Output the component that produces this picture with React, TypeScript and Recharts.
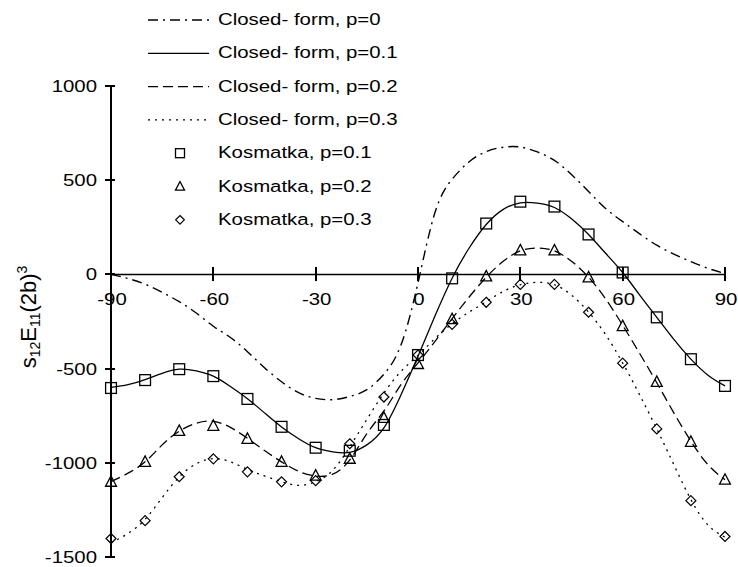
import React from 'react';
import { ComposedChart, Line, Scatter, XAxis, YAxis, ReferenceLine } from 'recharts';

// angles for the closed-form curves (every 5 degrees)
const angles = [
  -90, -85, -80, -75, -70, -65, -60, -55, -50, -45, -40, -35, -30, -25, -20, -15, -10, -5, 0,
  5, 10, 15, 20, 25, 30, 35, 40, 45, 50, 55, 60, 65, 70, 75, 80, 85, 90,
];
const closedP0 = [
  0, -22, -52, -95, -145, -205, -275, -335, -410, -495, -570, -628, -658, -665, -648, -612, -530, -375, -45,
  330, 505, 598, 652, 675, 676, 650, 605, 530, 440, 350, 280, 215, 155, 108, 68, 32, 5,
];
const closedP1 = [
  -600, -585, -558, -525, -503, -512, -540, -595, -660, -735, -810, -872, -920, -942, -945, -905, -815, -640, -435,
  -220, -20, 140, 265, 345, 380, 378, 355, 295, 212, 112, 10, -110, -228, -345, -450, -535, -592,
];
const closedP2 = [
  -1100, -1055, -995, -905, -832, -790, -780, -812, -870, -935, -995, -1045, -1070, -1060, -985, -845, -725, -585, -470,
  -355, -235, -120, -15, 70, 125, 140, 125, 70, -15, -130, -270, -420, -575, -735, -885, -1010, -1090,
];
const closedP3 = [
  -1425, -1375, -1300, -1185, -1075, -1005, -978, -995, -1035, -1070, -1100, -1120, -1100, -1040, -915, -770, -630, -515, -430,
  -340, -262, -200, -145, -90, -55, -42, -55, -110, -200, -320, -470, -640, -820, -1010, -1195, -1330, -1395,
];

// Kosmatka points (every 10 degrees)
const kosAngles = [-90, -80, -70, -60, -50, -40, -30, -20, -10, 0, 10, 20, 30, 40, 50, 60, 70, 80, 90];
const kosP1 = [-603, -561, -503, -540, -661, -809, -920, -936, -799, -428, -21, 270, 386, 360, 212, 10, -228, -450, -592];
const kosP2 = [-1101, -995, -831, -804, -873, -995, -1068, -979, -762, -476, -238, -11, 127, 127, -16, -275, -571, -889, -1090];
const kosP3 = [-1402, -1307, -1074, -979, -1048, -1101, -1095, -899, -651, -428, -265, -148, -53, -53, -201, -471, -820, -1201, -1391];

const xTicks = [-90, -60, -30, 0, 30, 60, 90];
const yTicks = [-1500, -1000, -500, 0, 500, 1000];

const legendRows = [
  { label: 'Closed- form, p=0', kind: 'p0' },
  { label: 'Closed- form, p=0.1', kind: 'p1' },
  { label: 'Closed- form, p=0.2', kind: 'p2' },
  { label: 'Closed- form, p=0.3', kind: 'p3' },
  { label: 'Kosmatka, p=0.1', kind: 'square' },
  { label: 'Kosmatka, p=0.2', kind: 'triangle' },
  { label: 'Kosmatka, p=0.3', kind: 'diamond' },
];

const W = 738;
const H = 567;
const margin = { top: 86, right: 13, bottom: 0, left: 51 };
const Y_AXIS_W = 60;
const X_AXIS_H = 10;
const X_MIN = -90;
const X_MAX = 90;
const Y_MIN = -1500;
const Y_MAX = 1000;
const PLOT_L = margin.left + Y_AXIS_W;
const PLOT_W = W - PLOT_L - margin.right;
const PLOT_H = H - margin.top - margin.bottom - X_AXIS_H;
const FONT = 'Liberation Sans, Arial, Helvetica, sans-serif';
const STRETCH = 1.2;
const AXIS_W = 2;

const dashes: Record<string, string | undefined> = {
  p0: '10 5 2 5',
  p1: undefined,
  p2: '10 5',
  p3: '2 5',
};

const curveData = angles.map((x, i) => ({
  x,
  p0: closedP0[i],
  p1: closedP1[i],
  p2: closedP2[i],
  p3: closedP3[i],
}));
const kos1 = kosAngles.map((x, i) => ({ x, y: kosP1[i] }));
const kos2 = kosAngles.map((x, i) => ({ x, y: kosP2[i] }));
const kos3 = kosAngles.map((x, i) => ({ x, y: kosP3[i] }));

// same linear mapping the chart uses for its plot area (axis decorations only)
const px = (v: number) => Math.round(PLOT_L + ((v - X_MIN) / (X_MAX - X_MIN)) * PLOT_W);
const py = (v: number) => Math.round(margin.top + ((Y_MAX - v) / (Y_MAX - Y_MIN)) * PLOT_H);

const SText = ({ x, y, anchor = 'start', size = 17, children }: any) => (
  <text
    transform={`translate(${x},${y}) scale(${STRETCH},1)`}
    textAnchor={anchor}
    fontSize={size}
    fontFamily={FONT}
    fill="#000"
  >
    {children}
  </text>
);

// marker shapes
const squarePath = (cx: number, cy: number, r: number) => (
  <rect x={cx - r} y={cy - r} width={2 * r} height={2 * r} fill="none" stroke="#000" strokeWidth={1.3} />
);
const trianglePath = (cx: number, cy: number, r: number) => (
  <polygon
    points={`${cx},${cy - r * 1.15} ${cx - r * 1.05},${cy + r * 0.85} ${cx + r * 1.05},${cy + r * 0.85}`}
    fill="none"
    stroke="#000"
    strokeWidth={1.3}
  />
);
const diamondPath = (cx: number, cy: number, r: number) => (
  <polygon
    points={`${cx},${cy - r} ${cx + r},${cy} ${cx},${cy + r} ${cx - r},${cy}`}
    fill="none"
    stroke="#000"
    strokeWidth={1.2}
  />
);

const SquareMark = (props: any) => squarePath(props.cx, props.cy, 5.4);
const TriangleMark = (props: any) => trianglePath(props.cx, props.cy, 5.2);
const DiamondMark = (props: any) => diamondPath(props.cx, props.cy, 5);

const XTick = (props: any) => {
  const { x, y, payload } = props;
  // labels sit under the zero line, not the plot bottom
  const y0 = y - (PLOT_H * (0 - Y_MIN)) / (Y_MAX - Y_MIN);
  return <SText x={x + 1} y={y0 + 31} anchor="middle">{payload.value}</SText>;
};

const YTick = (props: any) => {
  const { x, y, payload } = props;
  return <SText x={x - 14} y={y + 6} anchor="end">{payload.value}</SText>;
};

const YLabel = () => (
  <text transform="translate(36,317) rotate(-90)" textAnchor="middle" fontSize={22} fontFamily={FONT} fill="#000">
    <tspan>s</tspan>
    <tspan fontSize={14} dy={4}>12</tspan>
    <tspan dy={-4}>E</tspan>
    <tspan fontSize={14} dy={4}>11</tspan>
    <tspan dy={-4}>(2b)</tspan>
    <tspan fontSize={14} dy={-9}>3</tspan>
  </text>
);

// vertical axis line and crossing tick marks
const AxisMarks = () => {
  const y0 = py(0);
  return (
    <svg width={W} height={H} style={{ position: 'absolute', left: 0, top: 0, pointerEvents: 'none' }}>
      <line x1={px(X_MIN)} x2={px(X_MIN)} y1={py(Y_MAX) - 1} y2={py(Y_MIN) + 1} stroke="#000" strokeWidth={AXIS_W} />
      {xTicks.map((t) => (
        <line key={`xt${t}`} x1={px(t)} x2={px(t)} y1={y0 - 7} y2={y0 + 7} stroke="#000" strokeWidth={AXIS_W} />
      ))}
      {yTicks.map((t) => (
        <line key={`yt${t}`} x1={px(X_MIN) - 6} x2={px(X_MIN) + 4} y1={py(t)} y2={py(t)} stroke="#000" strokeWidth={AXIS_W} />
      ))}
    </svg>
  );
};

const LegendBox = () => (
  <svg width={W} height={235} style={{ position: 'absolute', left: 0, top: 0, pointerEvents: 'none' }}>
    {legendRows.map((row, i) => {
      const cy = 19 + i * 33.3;
      let sample: React.ReactNode;
      if (row.kind === 'square') sample = squarePath(180, cy + 1, 4.5);
      else if (row.kind === 'triangle') sample = trianglePath(180, cy + 1, 4.3);
      else if (row.kind === 'diamond') sample = diamondPath(180, cy + 1, 4.3);
      else
        sample = (
          <line
            x1={148}
            x2={209}
            y1={cy + 1}
            y2={cy + 1}
            stroke="#000"
            strokeWidth={1.3}
            strokeDasharray={dashes[row.kind]}
          />
        );
      return (
        <g key={row.label}>
          {sample}
          <SText x={218} y={cy + 6}>{row.label}</SText>
        </g>
      );
    })}
  </svg>
);

export default function App() {
  return (
    <div style={{ position: 'absolute', left: 0, top: 0, width: W, height: H, background: '#fff' }}>
      <ComposedChart width={W} height={H} data={curveData} margin={margin}>
        <XAxis
          type="number"
          dataKey="x"
          domain={[X_MIN, X_MAX]}
          ticks={xTicks}
          interval={0}
          height={X_AXIS_H}
          tickSize={0}
          tickMargin={0}
          axisLine={false}
          tickLine={false}
          tick={<XTick />}
        />
        <YAxis
          type="number"
          domain={[Y_MIN, Y_MAX]}
          ticks={yTicks}
          interval={0}
          width={Y_AXIS_W}
          tickSize={0}
          tickMargin={0}
          tickLine={false}
          axisLine={false}
          tick={<YTick />}
          label={<YLabel />}
        />
        <ReferenceLine y={0} stroke="#000" strokeWidth={1.5} />
        <Line dataKey="p0" type="natural" stroke="#000" strokeWidth={1.4} strokeDasharray={dashes.p0} dot={false} activeDot={false} isAnimationActive={false} />
        <Line dataKey="p1" type="natural" stroke="#000" strokeWidth={1.3} dot={false} activeDot={false} isAnimationActive={false} />
        <Line dataKey="p2" type="natural" stroke="#000" strokeWidth={1.3} strokeDasharray={dashes.p2} dot={false} activeDot={false} isAnimationActive={false} />
        <Line dataKey="p3" type="natural" stroke="#000" strokeWidth={1.3} strokeDasharray={dashes.p3} dot={false} activeDot={false} isAnimationActive={false} />
        <Scatter data={kos1} dataKey="y" shape={<SquareMark />} isAnimationActive={false} />
        <Scatter data={kos2} dataKey="y" shape={<TriangleMark />} isAnimationActive={false} />
        <Scatter data={kos3} dataKey="y" shape={<DiamondMark />} isAnimationActive={false} />
      </ComposedChart>
      <AxisMarks />
      <LegendBox />
    </div>
  );
}
